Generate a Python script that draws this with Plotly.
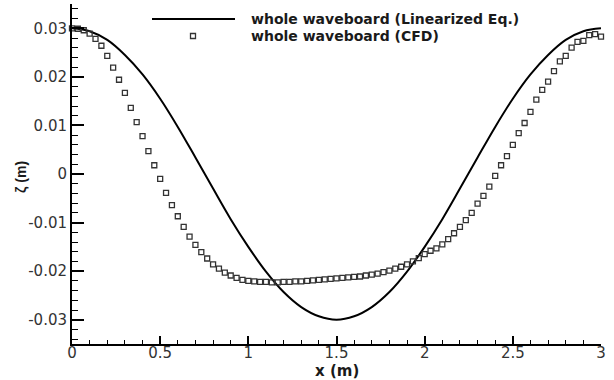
import plotly.graph_objects as go

# Linearized-equation surface elevation, sampled every 0.1 m
x_lin = [0.0, 0.1, 0.2, 0.3, 0.4, 0.5, 0.6, 0.7, 0.8, 0.9, 1.0,
         1.1, 1.2, 1.3, 1.4, 1.5, 1.6, 1.7, 1.8, 1.9, 2.0,
         2.1, 2.2, 2.3, 2.4, 2.5, 2.6, 2.7, 2.8, 2.9, 3.0]
z_lin = [0.0300, 0.0294, 0.0276, 0.0245, 0.0205, 0.0155, 0.0097, 0.0034,
         -0.0030, -0.0093, -0.0150, -0.0201, -0.0243, -0.0274, -0.0293, -0.0300,
         -0.0293, -0.0274, -0.0243, -0.0201, -0.0150, -0.0093, -0.0030, 0.0034,
         0.0097, 0.0155, 0.0205, 0.0245, 0.0276, 0.0294, 0.0300]

# CFD surface elevation, one value per free-surface node (dx = 1/30 m)
x_cfd = [k / 30 for k in range(91)]
z_cfd = [0.0300, 0.0299, 0.0296, 0.0289, 0.0278, 0.0264, 0.0243, 0.0219, 0.0194, 0.0167,
         0.0136, 0.0107, 0.0078, 0.0047, 0.0018, -0.0010, -0.0039, -0.0064, -0.0087, -0.0109,
         -0.0129, -0.0146, -0.0161, -0.0174, -0.0186, -0.0195, -0.0203, -0.0209, -0.0214, -0.0218,
         -0.0220, -0.0221, -0.0222, -0.0222, -0.0223, -0.0223, -0.0222, -0.0222, -0.0221, -0.0221,
         -0.0220, -0.0219, -0.0218, -0.0217, -0.0216, -0.0215, -0.0214, -0.0213, -0.0212, -0.0211,
         -0.0209, -0.0207, -0.0205, -0.0202, -0.0199, -0.0195, -0.0191, -0.0186, -0.0180, -0.0173,
         -0.0165, -0.0158, -0.0153, -0.0145, -0.0134, -0.0122, -0.0109, -0.0095, -0.0080, -0.0061,
         -0.0045, -0.0026, -0.0004, 0.0018, 0.0037, 0.0060, 0.0084, 0.0105, 0.0128, 0.0153,
         0.0173, 0.0190, 0.0212, 0.0232, 0.0243, 0.0260, 0.0272, 0.0274, 0.0286, 0.0288,
         0.0283]

x_ticks = [0, 0.5, 1, 1.5, 2, 2.5, 3]
x_tick_text = ["0", "0.5", "1", "1.5", "2", "2.5", "3"]
y_ticks = [-0.03, -0.02, -0.01, 0, 0.01, 0.02, 0.03]
y_tick_text = ["-0.03", "-0.02", "-0.01", "0", "0.01", "0.02", "0.03"]

legend_labels = ["whole waveboard (Linearized Eq.)", "whole waveboard (CFD)"]

FONT = "DejaVu Sans, Verdana, sans-serif"
FONT_NARROW = "Liberation Sans, Arial, sans-serif"
INK = "#1a1a1a"

fig = go.Figure()
fig.add_trace(go.Scatter(x=x_lin, y=z_lin, mode="lines", line_shape="spline",
                         line=dict(color="black", width=2), name=legend_labels[0]))
fig.add_trace(go.Scatter(x=x_cfd, y=z_cfd, mode="markers", name=legend_labels[1],
                         marker=dict(symbol="square-open", size=5, color="#333333",
                                     line=dict(width=1.3, color="#333333")),
                         cliponaxis=False))

W, H = 614, 380
ML, MR, MT, MB = 72, 13, 4, 36
PW, PH = W - ML - MR, H - MT - MB


def px(xp):
    return (xp - ML) / PW


def py(yp):
    return (H - MB - yp) / PH


axis_common = dict(showgrid=False, zeroline=False, showline=True, linewidth=2,
                   linecolor="black", ticks="inside", tickcolor="black",
                   tickfont=dict(family=FONT, size=15, color="#333333"))

fig.update_xaxes(range=[0, 3], tickvals=x_ticks, ticktext=x_tick_text,
                 ticklen=8, tickwidth=2, ticklabelstandoff=-6,
                 minor=dict(dtick=0.1, ticks="inside", ticklen=4, tickcolor="black", tickwidth=1),
                 **axis_common)
fig.update_yaxes(range=[-0.035, 0.035], tickvals=y_ticks, ticktext=y_tick_text,
                 ticklen=12, tickwidth=2,
                 minor=dict(dtick=0.002, ticks="inside", ticklen=6, tickcolor="black", tickwidth=1),
                 **axis_common)

# Legend drawn as shapes + text in the upper band of the plot
leg_font = dict(family=FONT, size=14, color=INK)
shapes = [
    dict(type="line", xref="paper", yref="paper", x0=px(152), x1=px(235),
         y0=py(19), y1=py(19), line=dict(color="black", width=2)),
    dict(type="rect", xref="paper", yref="paper", x0=px(190.5), x1=px(195.5),
         y0=py(38.5), y1=py(33.5), line=dict(color="#333333", width=1.3)),
]
annotations = [
    dict(text="<b>" + legend_labels[0] + "</b>", xref="paper", yref="paper",
         x=px(250), y=py(19), xanchor="left", yanchor="middle", showarrow=False,
         font=leg_font, borderpad=0),
    dict(text="<b>" + legend_labels[1] + "</b>", xref="paper", yref="paper",
         x=px(250), y=py(36), xanchor="left", yanchor="middle", showarrow=False,
         font=leg_font, borderpad=0),
    dict(text="<b>x (m)</b>", xref="paper", yref="paper", x=px(337), y=py(371),
         xanchor="center", yanchor="middle", showarrow=False, borderpad=0,
         font=dict(family=FONT, size=15, color=INK)),
    dict(text="<b>ζ (m)</b>", xref="paper", yref="paper", x=px(21), y=py(177),
         xanchor="center", yanchor="middle", textangle=-90, showarrow=False,
         font=dict(family=FONT_NARROW, size=14, color=INK)),
]

fig.update_layout(width=W, height=H, margin=dict(l=ML, r=MR, t=MT, b=MB),
                  paper_bgcolor="white", plot_bgcolor="white", showlegend=False,
                  shapes=shapes, annotations=annotations)

fig.write_html("out.html")
